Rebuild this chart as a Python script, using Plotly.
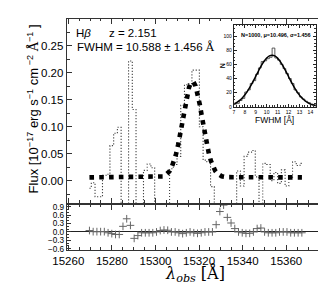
import plotly.graph_objects as go

# ---------------- data ----------------
wave = [15269.70, 15271.41, 15273.12, 15274.83, 15276.54, 15278.25, 15279.96, 15281.67, 15283.38, 15285.09,
        15286.80, 15288.51, 15290.22, 15291.93, 15293.64, 15295.35, 15297.06, 15298.77, 15300.48, 15302.19,
        15303.90, 15305.61, 15307.32, 15309.03, 15310.74, 15312.45, 15314.16, 15315.87, 15317.58, 15319.29,
        15321.00, 15322.71, 15324.42, 15326.13, 15327.84, 15329.55, 15331.26, 15332.97, 15334.68, 15336.39,
        15338.10, 15339.81, 15341.52, 15343.23, 15344.94, 15346.65, 15348.36, 15350.07, 15351.78, 15353.49,
        15355.20, 15356.91, 15358.62, 15360.33, 15362.04, 15363.75, 15365.46, 15367.17]

flux = [-0.014, -0.004, -0.030, -0.030, 0.010, 0.012, 0.065, 0.088, 0.099, -0.070,
        -0.070, 0.222, 0.132, -0.070, -0.070, 0.019, 0.031, 0.024, -0.070, -0.070,
        -0.070, -0.070, 0.022, 0.030, 0.045, 0.140, 0.178, 0.180, 0.205, 0.205,
        0.100, 0.038, 0.035, -0.011, -0.070, -0.070, -0.070, -0.070, -0.070, -0.070,
        0.018, -0.010, 0.045, 0.053, 0.056, 0.007, -0.070, 0.032, 0.030, 0.000,
        0.015, -0.005, 0.020, -0.010, 0.005, 0.035, 0.028, 0.032]

resid = [0.05, 0.01, 0.01, 0.01, 0.01, -0.03, -0.06, -0.09, -0.09, 0.20,
         0.47, 0.235, -0.23, -0.13, -0.03, -0.03, -0.03, -0.03, 0.0, 0.05,
         0.07, 0.06, 0.0, 0.0, -0.03, -0.06, -0.03, 0.0, -0.03, -0.05,
         -0.03, 0.0, 0.0, 0.0, 0.26, 0.73, 0.96, 0.52, 0.32, 0.12,
         0.0, -0.03, -0.05, -0.05, 0.0, 0.12, 0.14, 0.0, -0.03, -0.03,
         -0.03, 0.0, 0.0, 0.0, -0.03, -0.03, -0.03, -0.03]

model_wave = [15269.7, 15302.4, 15303.4, 15304.4, 15305.4, 15306.4, 15307.4, 15308.4, 15309.4, 15310.4,
              15311.4, 15312.4, 15313.4, 15314.4, 15315.4, 15316.4, 15317.4, 15318.4, 15319.4, 15320.4,
              15321.4, 15322.4, 15323.4, 15324.4, 15325.4, 15326.4, 15327.4, 15328.4, 15329.4, 15330.4,
              15331.4, 15332.4, 15367.2]
model_flux = [0.0060, 0.0069, 0.0078, 0.0095, 0.0124, 0.0171, 0.0243, 0.0347, 0.0488, 0.0667,
              0.0881, 0.1116, 0.1353, 0.1566, 0.1731, 0.1824, 0.1833, 0.1756, 0.1604, 0.1398,
              0.1164, 0.0926, 0.0707, 0.0521, 0.0372, 0.0261, 0.0183, 0.0132, 0.0100, 0.0081,
              0.0071, 0.0065, 0.0060]

hist_edges = [7.0, 7.25, 7.5, 7.75, 8.0, 8.25, 8.5, 8.75, 9.0, 9.25,
              9.5, 9.75, 10.0, 10.25, 10.5, 10.75, 11.0, 11.25, 11.5, 11.75,
              12.0, 12.25, 12.5, 12.75, 13.0, 13.25, 13.5, 13.75, 14.0, 14.25, 14.5]
hist_counts = [4, 5, 9, 12, 21, 24, 33, 37, 46, 55,
               64, 65, 68, 70, 83, 69, 66, 60, 54, 47,
               40, 33, 24, 20, 14, 11, 8, 6, 4, 3]

fit_x = [7.0, 7.25, 7.5, 7.75, 8.0, 8.25, 8.5, 8.75, 9.0, 9.25, 9.5, 9.75, 10.0, 10.25, 10.5, 10.75,
         11.0, 11.25, 11.5, 11.75, 12.0, 12.25, 12.5, 12.75, 13.0, 13.25, 13.5, 13.75, 14.0, 14.25, 14.5]
fit_y = [4.1, 6.1, 8.8, 12.3, 16.8, 22.2, 28.5, 35.6, 43.1, 50.6, 57.8, 64.0, 68.9, 72.0, 73.0, 71.9,
         68.8, 63.8, 57.6, 50.4, 42.8, 35.3, 28.3, 22.0, 16.6, 12.2, 8.7, 6.0, 4.0, 2.6, 1.7]

main_yticks = [0.00, 0.05, 0.10, 0.15, 0.20, 0.25]
resid_yticks = [-0.6, -0.3, 0.0, 0.3, 0.6, 0.9]
x_ticks = [15260, 15280, 15300, 15320, 15340, 15360]
inset_xticks = [7, 8, 9, 10, 11, 12, 13, 14]
inset_yticks = [0, 20, 40, 60, 80, 100]

# ---------------- layout helpers ----------------
W, H = 326, 285
def fx(px):
    return px / W
def fy(py):
    return 1 - py / H

SANS = "Liberation Sans, Arial, sans-serif"
FRAME = "#333333"

fig = go.Figure()

# spectrum (dotted, steps-mid)
fig.add_trace(go.Scatter(x=wave, y=flux, mode="lines",
                         line=dict(shape="hvh", color="#444444", width=1.1, dash="1.2px,1.8px"),
                         xaxis="x", yaxis="y", showlegend=False))
# model (thick square-dotted)
fig.add_trace(go.Scatter(x=model_wave, y=model_flux, mode="lines",
                         line=dict(color="black", width=4.6, dash="4.6px,5.2px"),
                         xaxis="x", yaxis="y", showlegend=False))
# residuals
fig.add_trace(go.Scatter(x=wave, y=resid, mode="markers",
                         marker=dict(symbol="cross-thin", size=5.5, line=dict(color="#666666", width=1)),
                         xaxis="x2", yaxis="y2", showlegend=False, cliponaxis=True))
# inset histogram (step outline)
fig.add_trace(go.Scatter(x=hist_edges, y=hist_counts + [hist_counts[-1]], mode="lines",
                         line=dict(shape="hv", color="#333333", width=0.8),
                         xaxis="x3", yaxis="y3", showlegend=False))
fig.add_trace(go.Scatter(x=fit_x, y=fit_y, mode="lines", line=dict(color="black", width=1.5, shape="spline"),
                         xaxis="x3", yaxis="y3", showlegend=False))

common_ax = dict(showline=True, linecolor=FRAME, linewidth=1.3, mirror="allticks", ticks="inside",
                 tickcolor=FRAME, showgrid=False)

xdom = [fx(46), fx(315)]
xr = [15259.35, 15377.1]

fig.update_layout(
    width=W, height=H, margin=dict(l=0, r=0, t=0, b=0),
    paper_bgcolor="white", plot_bgcolor="white",
    font=dict(family=SANS, size=11.5, color="black"),
    xaxis=dict(domain=xdom, anchor="y", range=xr, tickvals=x_ticks, showticklabels=False, ticklen=5,
               zeroline=False,
               minor=dict(ticks="inside", dtick=5, tick0=15260, ticklen=2.5, tickcolor=FRAME), **common_ax),
    yaxis=dict(domain=[fy(197), fy(9)], anchor="x", range=[-0.0412, 0.3003], tickvals=main_yticks,
               tickformat=".2f", ticklen=5, tickfont=dict(size=11.5), zeroline=False,
               minor=dict(ticks="inside", dtick=0.025, tick0=0, ticklen=2.5, tickcolor=FRAME), **common_ax),
    xaxis2=dict(domain=xdom, anchor="y2", range=xr, tickvals=x_ticks, tickformat="d", ticklen=5,
                tickfont=dict(size=11.5), zeroline=False,
                minor=dict(ticks="inside", dtick=5, tick0=15260, ticklen=2.5, tickcolor=FRAME), **common_ax),
    yaxis2=dict(domain=[fy(245), fy(199)], anchor="x2", range=[-0.64, 0.97], tickvals=resid_yticks,
                tickformat=".1f", ticklen=4, tickfont=dict(size=8.2),
                zeroline=True, zerolinecolor="#222222", zerolinewidth=1.2,
                minor=dict(ticks="inside", dtick=0.1, tick0=0, ticklen=2, tickcolor=FRAME), **common_ax),
    xaxis3=dict(domain=[fx(221), fx(307)], anchor="y3", range=[7, 14.5], tickvals=inset_xticks, ticklen=3,
                tickfont=dict(size=5), minor=dict(ticks="inside", dtick=0.25, ticklen=1.5, tickcolor=FRAME),
                showline=True, linecolor="#222", linewidth=1, mirror="allticks", ticks="inside",
                tickcolor="#222", showgrid=False, zeroline=False),
    yaxis3=dict(domain=[fy(99), fy(15)], anchor="x3", range=[0, 116], tickvals=inset_yticks, ticklen=3,
                tickfont=dict(size=5), minor=dict(ticks="inside", dtick=5, ticklen=1.5, tickcolor=FRAME),
                showline=True, linecolor="#222", linewidth=1, mirror="allticks", ticks="inside",
                tickcolor="#222", showgrid=False, zeroline=False),
)

ann = []
ann.append(dict(x=fx(53), y=fy(23), text="H<i>β</i>", xref="paper", yref="paper", xanchor="left",
                yanchor="middle", showarrow=False, font=dict(size=11.5, family=SANS)))
ann.append(dict(x=fx(88), y=fy(23), text="z = 2.151", xref="paper", yref="paper", xanchor="left",
                yanchor="middle", showarrow=False, font=dict(size=11.5, family=SANS)))
ann.append(dict(x=fx(54), y=fy(38), text="FWHM = 10.588 ± 1.456 <span style='font-family:DejaVu Serif'>Å</span>",
                xref="paper", yref="paper", xanchor="left", yanchor="middle", showarrow=False,
                font=dict(size=11.5, family=SANS)))
ann.append(dict(x=fx(10), y=fy(101), text="Flux [10<sup>−17</sup> erg s<sup>−1</sup> cm<sup> −2</sup> <span style='font-family:DejaVu Serif'>Å</span><sup>−1</sup> ]",
                xref="paper", yref="paper", xanchor="center", yanchor="middle", textangle=-90, showarrow=False,
                font=dict(size=13, family=SANS)))
ann.append(dict(x=fx(180), y=fy(270), text="<i>λ</i><sub><i>obs</i></sub> [Å]", xref="paper", yref="paper",
                xanchor="center", yanchor="middle", showarrow=False,
                font=dict(size=16, family="DejaVu Serif, Liberation Serif, serif")))
# inset labels
ann.append(dict(x=fx(265), y=fy(26), text="<b>N=1000, μ=10.496, σ=1.456</b>", xref="paper", yref="paper",
                xanchor="center", yanchor="middle", showarrow=False, font=dict(size=5.5, family=SANS)))
ann.append(dict(x=fx(264), y=fy(112), text="FWHM [Å]", xref="paper", yref="paper",
                xanchor="center", yanchor="middle", showarrow=False, font=dict(size=8.5, family=SANS)))
ann.append(dict(x=fx(209), y=fy(57), text="<b>N</b>", xref="paper", yref="paper", textangle=-90,
                xanchor="center", yanchor="middle", showarrow=False, font=dict(size=7, family=SANS)))
fig.update_layout(annotations=ann)

fig.write_html("out.html")
